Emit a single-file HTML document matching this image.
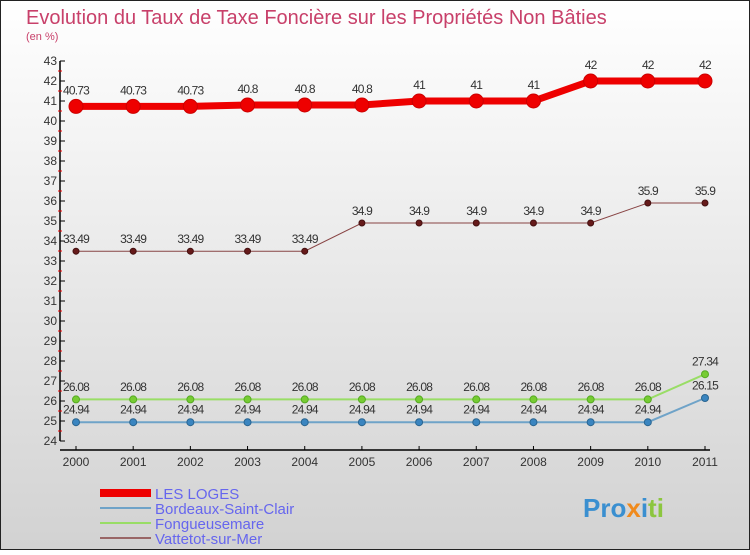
<!DOCTYPE html>
<html><head><meta charset="utf-8"><style>
body{margin:0;width:750px;height:550px;overflow:hidden;font-family:"Liberation Sans",sans-serif}
</style></head><body>
<svg width="750" height="550" xmlns="http://www.w3.org/2000/svg">
<defs><linearGradient id="bg" x1="0" y1="0" x2="0" y2="1"><stop offset="0" stop-color="#ffffff"/><stop offset="1" stop-color="#d2d2d2"/></linearGradient></defs>
<rect x="0.5" y="0.5" width="749" height="549" fill="url(#bg)" stroke="#222"/>
<text x="26" y="24" font-size="20" fill="#c8406a">Evolution du Taux de Taxe Foncière sur les Propriétés Non Bâties</text>
<text x="26" y="40" font-size="11" fill="#c8406a">(en %)</text>
<g id="axes"></g><g id="series"></g>
<g>
<rect x="100" y="489" width="51" height="8" fill="#ee0000"/>
<text x="155" y="499" font-size="15" fill="#6666ee">LES LOGES</text>
<rect x="100" y="507" width="51" height="2" fill="#6fa3c8"/>
<text x="155" y="514" font-size="15" fill="#6666ee">Bordeaux-Saint-Clair</text>
<rect x="100" y="522" width="51" height="2" fill="#99dd66"/>
<text x="155" y="529" font-size="15" fill="#6666ee">Fongueusemare</text>
<rect x="100" y="537" width="51" height="2" fill="#996666"/>
<text x="155" y="544" font-size="15" fill="#6666ee">Vattetot-sur-Mer</text>
</g>
<text x="583" y="517" font-size="26" font-weight="bold"><tspan fill="#3a8fd0">Pro</tspan><tspan fill="#f08a1c">x</tspan><tspan fill="#3a8fd0">i</tspan><tspan fill="#8cc63f">ti</tspan></text>
</svg>
<script>
const years=[2000,2001,2002,2003,2004,2005,2006,2007,2008,2009,2010,2011];
const lesLoges=[40.73,40.73,40.73,40.8,40.8,40.8,41,41,41,42,42,42];
const bordeaux=[24.94,24.94,24.94,24.94,24.94,24.94,24.94,24.94,24.94,24.94,24.94,26.15];
const fongueusemare=[26.08,26.08,26.08,26.08,26.08,26.08,26.08,26.08,26.08,26.08,26.08,27.34];
const vattetot=[33.49,33.49,33.49,33.49,33.49,34.9,34.9,34.9,34.9,34.9,35.9,35.9];
const yTicks=[24,25,26,27,28,29,30,31,32,33,34,35,36,37,38,39,40,41,42,43];
const NS="http://www.w3.org/2000/svg";
const X=i=>76+i*(705-76)/(years.length-1);
const Y=v=>61+(43-v)*20;
function mk(t,a,p){const e=document.createElementNS(NS,t);for(const k in a)e.setAttribute(k,a[k]);p.appendChild(e);return e;}
const ax=document.getElementById('axes');
let e=mk('line',{x1:60,y1:Y(43),x2:60,y2:Y(24),stroke:'#000','stroke-width':1.5},ax);


e=mk('line',{x1:60,y1:450,x2:710,y2:450,stroke:'#000','stroke-width':1.5},ax);


yTicks.forEach(v=>{
 mk('line',{x1:60,y1:Y(v),x2:65,y2:Y(v),stroke:'#000'},ax);
 if(v<43)mk('line',{x1:58,y1:Y(v+0.5),x2:62,y2:Y(v+0.5),stroke:'#e00'},ax);
 const t=mk('text',{x:57,y:Y(v)+4,'font-size':12,'text-anchor':'end',fill:'#333'},ax);t.textContent=v;
 
 
});
years.forEach((y,i)=>{
 mk('line',{x1:X(i),y1:446,x2:X(i),y2:450,stroke:'#000'},ax);
 const t=mk('text',{x:X(i),y:466,'font-size':12,'text-anchor':'middle',fill:'#333'},ax);t.textContent=y;
 
 
});
const sg=document.getElementById('series');
function series(name,data,color,w,r,dot,stroke){
 const g=mk('g',{},sg);
 
 
 mk('polyline',{points:data.map((v,i)=>X(i)+','+Y(v)).join(' '),fill:'none',stroke:color,'stroke-width':w},g);
 data.forEach((v,i)=>{
  const c=mk('circle',{cx:X(i),cy:Y(v),r:r,fill:dot,stroke:stroke,'stroke-width':1},g);
  
  
  const t=mk('text',{x:X(i),y:Y(v)-(r+5),'font-size':12,'text-anchor':'middle',fill:'#333','letter-spacing':'-0.8'},g);
  t.textContent=String(v);
  
  
 });
}
series('vattetot',vattetot,'#884444',1,3,'#661a1a','#441010');
series('fongueusemare',fongueusemare,'#99dd66',2,3.5,'#77cc33','#55aa22');
series('bordeaux',bordeaux,'#6fa3c8',2,3.5,'#3a85c0','#2a6590');
series('les-loges',lesLoges,'#ee0000',7,7,'#ee0000','#cc0000');
</script>
</body></html>
